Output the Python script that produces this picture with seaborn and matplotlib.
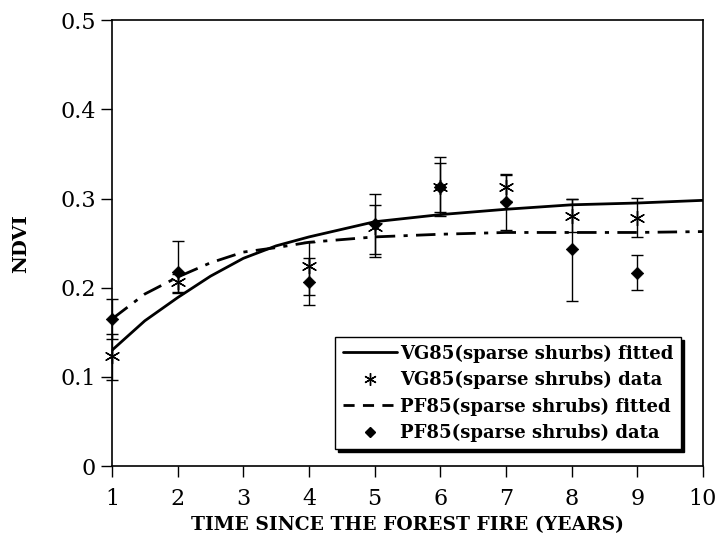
import numpy as np
import pandas as pd
import seaborn as sns
import matplotlib.pyplot as plt
from matplotlib.lines import Line2D

# fitted curves
fit_x = [1, 1.5, 2, 2.5, 3, 3.5, 4, 5, 6, 7, 8, 9, 10]
vg_fit = [0.130, 0.163, 0.189, 0.213, 0.233, 0.247, 0.257, 0.274, 0.282, 0.288, 0.293, 0.295, 0.298]
pf_fit = [0.165, 0.193, 0.212, 0.228, 0.240, 0.245, 0.251, 0.257, 0.260, 0.262, 0.262, 0.262, 0.263]

# observed data with error bar ranges
years = [1, 2, 4, 5, 6, 7, 8, 9]
vg_data = [0.123, 0.207, 0.224, 0.268, 0.313, 0.313, 0.280, 0.278]
vg_low = [0.097, 0.195, 0.192, 0.235, 0.280, 0.297, 0.262, 0.257]
vg_high = [0.148, 0.215, 0.251, 0.305, 0.347, 0.328, 0.300, 0.301]
pf_data = [0.165, 0.218, 0.207, 0.272, 0.313, 0.296, 0.243, 0.217]
pf_low = [0.143, 0.194, 0.181, 0.238, 0.285, 0.265, 0.185, 0.197]
pf_high = [0.187, 0.252, 0.233, 0.293, 0.340, 0.326, 0.300, 0.237]

y_ticks = [0, 0.1, 0.2, 0.3, 0.4, 0.5]
y_tick_labels = ["0", "0.1", "0.2", "0.3", "0.4", "0.5"]
x_ticks = list(range(1, 11))

labels = ["VG85(sparse shurbs) fitted", "VG85(sparse shrubs) data",
          "PF85(sparse shrubs) fitted", "PF85(sparse shrubs) data"]

sns.set_theme(style="ticks")
plt.rcParams["font.family"] = ["DejaVu Serif"]
plt.rcParams["text.color"] = "black"
plt.rcParams["axes.labelcolor"] = "black"
plt.rcParams["xtick.color"] = "black"
plt.rcParams["ytick.color"] = "black"

fit = pd.DataFrame({"x": fit_x, "vg": vg_fit, "pf": pf_fit})
obs = pd.DataFrame({"year": years, "vg": vg_data, "pf": pf_data})

fig = plt.figure(figsize=(7.18, 5.44), dpi=100)
ax = fig.add_axes([0.156, 0.143, 0.823, 0.820])

sns.lineplot(data=fit, x="x", y="vg", ax=ax, color="black", lw=2.0)
sns.lineplot(data=fit, x="x", y="pf", ax=ax, color="black", lw=2.0, linestyle=(0, (7, 3, 1.5, 3)))

for col, lo, hi in [("vg", vg_low, vg_high), ("pf", pf_low, pf_high)]:
    eb = ax.errorbar(obs["year"], obs[col],
                     yerr=[obs[col] - np.array(lo), np.array(hi) - obs[col]],
                     fmt="none", ecolor="black", elinewidth=1, capsize=4, capthick=1)
    for art in eb.lines[1] + eb.lines[2]:
        art.set_clip_on(False)

sns.scatterplot(data=obs, x="year", y="vg", ax=ax, marker=(6, 2, 0), s=110,
                color="black", edgecolor="black", linewidth=1.0, zorder=3, clip_on=False)
sns.scatterplot(data=obs, x="year", y="pf", ax=ax, marker="D", s=40,
                color="black", edgecolor="black", zorder=3, clip_on=False)

ax.set_xlim(1, 10)
ax.set_ylim(0, 0.5)
ax.set_xticks(x_ticks)
ax.set_yticks(y_ticks)
ax.set_yticklabels(y_tick_labels)
ax.tick_params(axis="both", labelsize=16, length=8, width=1, color="black", direction="out")
ax.tick_params(axis="x", pad=8)
for sp in ax.spines.values():
    sp.set_color("black")
    sp.set_linewidth(1.2)

ax.set_xlabel("TIME SINCE THE FOREST FIRE (YEARS)", fontsize=13.5, fontweight="bold", labelpad=4)
ax.set_ylabel("NDVI", fontsize=14, fontweight="bold", labelpad=22)

handles = [
    Line2D([], [], color="black", lw=2.0),
    Line2D([], [], color="black", lw=0, marker=(6, 2, 0), markersize=9, markeredgewidth=1),
    Line2D([], [], color="black", lw=2.0, linestyle=(0, (4, 3))),
    Line2D([], [], color="black", lw=0, marker="D", markersize=5),
]
leg = ax.legend(handles, labels, loc="lower right", bbox_to_anchor=(0.978, 0.018),
                prop={"weight": "bold", "size": 13}, frameon=True, fancybox=False,
                shadow={"color": "black", "alpha": 1}, edgecolor="black",
                handlelength=3, handletextpad=0.2, labelspacing=0.45, borderpad=0.4)
leg.get_frame().set_linewidth(1)
leg.get_frame().set_alpha(1)

fig.savefig("out.png", dpi=100)
